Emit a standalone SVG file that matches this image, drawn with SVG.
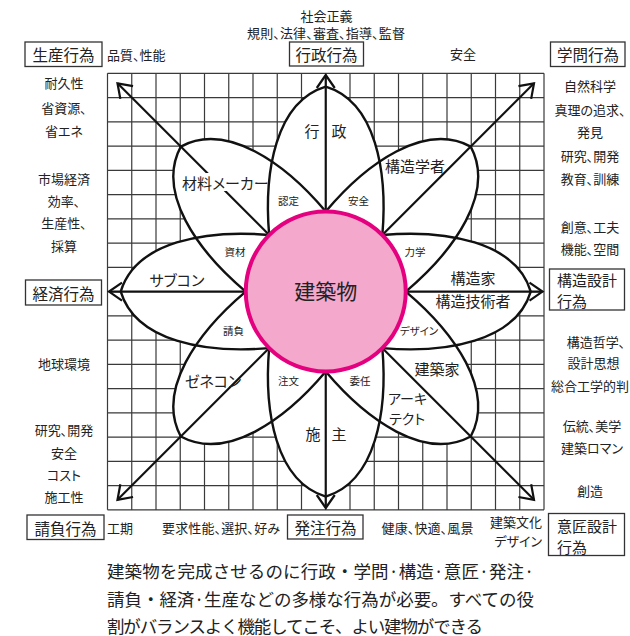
<svg xmlns="http://www.w3.org/2000/svg" width="630" height="636" viewBox="0 0 630 636">
<style>
text{font-family:"Noto Sans CJK JP","Noto Sans CJK SC",sans-serif;fill:#222;font-feature-settings:"palt";}
.o{font-size:13px;text-anchor:middle;dominant-baseline:central}
.os{font-size:13px;dominant-baseline:central}
.oe{font-size:13px;text-anchor:end;dominant-baseline:central}
.b{font-size:15.5px;text-anchor:middle;dominant-baseline:central}
.bl{font-size:15px;dominant-baseline:central}
.p{font-size:15px;text-anchor:middle;dominant-baseline:central}
.ps{font-size:15px;dominant-baseline:central}
.pa{font-size:14px;dominant-baseline:central}
.s{font-size:10.5px;text-anchor:middle;dominant-baseline:central}
.big{font-size:21px;text-anchor:middle;dominant-baseline:central}
.para{font-size:17.5px;dominant-baseline:central;font-feature-settings:normal}
.box{fill:#fff;stroke:#333;stroke-width:1.3}
.grid{fill:none;stroke:#3a3a3a;stroke-width:1.2}
.pf{fill:#fff;stroke:none}
.pl{fill:none;stroke:#111;stroke-width:2.4}
.arr{fill:none;stroke:#111;stroke-width:2.2;marker-end:url(#ah)}
</style>
<defs>
<marker id="ah" markerUnits="userSpaceOnUse" markerWidth="24" markerHeight="24" viewBox="-16 -12 20 24" refX="0" refY="0" orient="auto" overflow="visible">
<path d="M-13,-9 L0,0 L-13,9" fill="none" stroke="#111" stroke-width="2.2"/>
</marker>
<path id="pfill" d="M0,0 L56.6,56.6 C120,62 190,50 205,0 C190,-50 120,-62 56.6,-56.6 Z"/>
<path id="pline" d="M56.6,56.6 C120,62 190,50 205,0 C190,-50 120,-62 56.6,-56.6"/>
</defs>
<rect width="630" height="636" fill="#fff"/>

<g id="grid">
<path class="grid" d="M107.5,73.3V509.8M131.75,73.3V509.8M156,73.3V509.8M180.25,73.3V509.8M204.5,73.3V509.8M228.75,73.3V509.8M253,73.3V509.8M277.25,73.3V509.8M301.5,73.3V509.8M325.75,73.3V509.8M350,73.3V509.8M374.25,73.3V509.8M398.5,73.3V509.8M422.75,73.3V509.8M447,73.3V509.8M471.25,73.3V509.8M495.5,73.3V509.8M519.75,73.3V509.8M544,73.3V509.8
M107.5,73.3H544M107.5,97.55H544M107.5,121.8H544M107.5,146.05H544M107.5,170.3H544M107.5,194.55H544M107.5,218.8H544M107.5,243.05H544M107.5,267.3H544M107.5,291.55H544M107.5,315.8H544M107.5,340.05H544M107.5,364.3H544M107.5,388.55H544M107.5,412.8H544M107.5,437.05H544M107.5,461.3H544M107.5,485.55H544M107.5,509.8H544"/>
</g>

<g id="petal-fills" class="pf" transform="translate(325.75,291.55)">
<use href="#pfill" transform="rotate(0)"/>
<use href="#pfill" transform="rotate(45)"/>
<use href="#pfill" transform="rotate(90)"/>
<use href="#pfill" transform="rotate(135)"/>
<use href="#pfill" transform="rotate(180)"/>
<use href="#pfill" transform="rotate(225)"/>
<use href="#pfill" transform="rotate(270)"/>
<use href="#pfill" transform="rotate(315)"/>
</g>

<g id="connectors">
<line class="arr" x1="325.75" y1="291.55" x2="325.75" y2="75"/>
<line class="arr" x1="325.75" y1="291.55" x2="534" y2="83.3"/>
<line class="arr" x1="325.75" y1="291.55" x2="542.5" y2="291.55"/>
<line class="arr" x1="325.75" y1="291.55" x2="534" y2="499.8"/>
<line class="arr" x1="325.75" y1="291.55" x2="325.75" y2="508"/>
<line class="arr" x1="325.75" y1="291.55" x2="117.5" y2="499.8"/>
<line class="arr" x1="325.75" y1="291.55" x2="109" y2="291.55"/>
<line class="arr" x1="325.75" y1="291.55" x2="117.5" y2="83.3"/>
</g>

<g id="petal-gyosei">
<use href="#pline" class="pl" transform="translate(325.75,291.55) rotate(270)"/>
<text class="p"><tspan x="312" y="130">行</tspan><tspan x="339" y="130">政</tspan></text>
<text class="s" x="288.5" y="200">認定</text>
<text class="s" x="358.5" y="200">安全</text>
</g>

<g id="petal-kozogakusha">
<use href="#pline" class="pl" transform="translate(325.75,291.55) rotate(315)"/>
<text class="ps" x="385" y="165">構造学者</text>
<text class="s" x="415" y="251.5">力学</text>
</g>

<g id="petal-kozoka">
<use href="#pline" class="pl" transform="translate(325.75,291.55) rotate(0)"/>
<text class="p" x="473" y="277">構造家</text>
<text class="p" x="473" y="300.5">構造技術者</text>
</g>

<g id="petal-kenchikuka">
<use href="#pline" class="pl" transform="translate(325.75,291.55) rotate(45)"/>
<text class="p" x="437" y="368">建築家</text>
<text class="pa" x="388" y="398">アーキ</text>
<text class="pa" x="389" y="418">テクト</text>
<text class="s" x="419" y="330">デザイン</text>
</g>

<g id="petal-seshu">
<use href="#pline" class="pl" transform="translate(325.75,291.55) rotate(90)"/>
<text class="p"><tspan x="313" y="433">施</tspan><tspan x="339" y="433">主</tspan></text>
<text class="s" x="288.5" y="380">注文</text>
<text class="s" x="360" y="380">委任</text>
</g>

<g id="petal-zenecon">
<use href="#pline" class="pl" transform="translate(325.75,291.55) rotate(135)"/>
<text class="ps" x="185" y="380">ゼネコン</text>
</g>

<g id="petal-subcon">
<use href="#pline" class="pl" transform="translate(325.75,291.55) rotate(180)"/>
<text class="p" x="177" y="279">サブコン</text>
<text class="s" x="233.5" y="330">請負</text>
</g>

<g id="petal-zairyo">
<use href="#pline" class="pl" transform="translate(325.75,291.55) rotate(225)"/>
<rect x="181" y="173" width="84" height="18" fill="#fff"/>
<text class="ps" x="182" y="182">材料メーカー</text>
<text class="s" x="235" y="251.5">資材</text>
</g>

<g id="center">
<circle cx="325.75" cy="291.55" r="80" fill="#f3a8cc" stroke="#e5007f" stroke-width="4"/>
<text class="big" x="325.75" y="290">建築物</text>
</g>

<g id="gyosei-koi">
<text class="o" x="326.5" y="15">社会正義</text>
<text class="o" x="326" y="32.5" textLength="158" lengthAdjust="spacing">規則、法律、審査、指導、監督</text>
<rect class="box" x="289.5" y="42" width="74" height="24"/>
<text class="b" x="326.5" y="54">行政行為</text>
<text class="o" x="463" y="53.5">安全</text>
</g>

<g id="seisan-koi">
<rect class="box" x="25" y="42" width="77" height="24.5"/>
<text class="b" x="63.5" y="54.3">生産行為</text>
<text class="os" x="107" y="54">品質、性能</text>
<text class="o" x="64" y="82.7">耐久性</text>
<text class="o" x="64" y="107">省資源、</text>
<text class="o" x="64" y="130">省エネ</text>
</g>

<g id="keizai-koi">
<text class="o" x="64" y="178.3">市場経済</text>
<text class="o" x="64" y="200.7">効率、</text>
<text class="o" x="64" y="222.7">生産性、</text>
<text class="o" x="64" y="245">採算</text>
<rect class="box" x="25.5" y="280" width="76" height="25"/>
<text class="b" x="63.5" y="292.5">経済行為</text>
<text class="o" x="64" y="363.3">地球環境</text>
</g>

<g id="ukeoi-koi">
<text class="o" x="64" y="429">研究、開発</text>
<text class="o" x="64" y="452.3">安全</text>
<text class="o" x="64" y="474">コスト</text>
<text class="o" x="64" y="496.7">施工性</text>
<rect class="box" x="27" y="515" width="77" height="24.5"/>
<text class="b" x="65.5" y="527.5">請負行為</text>
<text class="os" x="107" y="527.5">工期</text>
</g>

<g id="hatchu-koi">
<text class="o" x="221" y="527.5" textLength="118" lengthAdjust="spacing">要求性能、選択、好み</text>
<rect class="box" x="287.5" y="515" width="75.5" height="24"/>
<text class="b" x="325.5" y="527">発注行為</text>
<text class="o" x="427.5" y="527.5" textLength="92" lengthAdjust="spacing">健康、快適、風景</text>
</g>

<g id="isho-koi">
<text class="oe" x="542" y="521">建築文化</text>
<text class="oe" x="542" y="540">デザイン</text>
<rect class="box" x="548.5" y="513.5" width="76" height="42"/>
<text class="bl" x="557" y="525.5">意匠設計</text>
<text class="bl" x="557" y="546">行為</text>
<text class="o" x="592" y="425">伝統、美学</text>
<text class="o" x="592" y="447.3">建築ロマン</text>
<text class="o" x="590" y="490">創造</text>
</g>

<g id="kozo-koi">
<text class="o" x="590" y="226">創意、工夫</text>
<text class="o" x="590" y="248.3">機能、空間</text>
<rect class="box" x="549.5" y="269" width="75" height="41"/>
<text class="bl" x="557" y="279">構造設計</text>
<text class="bl" x="557" y="300">行為</text>
<text class="o" x="596" y="341.7">構造哲学、</text>
<text class="o" x="593.5" y="362.7">設計思想</text>
<text class="os" x="551" y="385">総合工学的判</text>
</g>

<g id="gakumon-koi">
<rect class="box" x="550.5" y="42" width="74.5" height="24.5"/>
<text class="b" x="588" y="54.3">学問行為</text>
<text class="o" x="590" y="85.5">自然科学</text>
<text class="o" x="590" y="109.3">真理の追求、</text>
<text class="o" x="590" y="131.7">発見</text>
<text class="o" x="590" y="155">研究、開発</text>
<text class="o" x="590" y="178.3">教育、訓練</text>
</g>

<g id="caption">
<text class="para" x="107" y="570" textLength="427" lengthAdjust="spacing">建築物を完成させるのに行政・学問·構造·意匠·発注·</text>
<text class="para" x="107" y="598" textLength="427" lengthAdjust="spacing">請負・経済·生産などの多様な行為が必要。すべての役</text>
<text class="para" x="107" y="625" textLength="376" lengthAdjust="spacing">割がバランスよく機能してこそ、よい建物ができる</text>
</g>
</svg>
